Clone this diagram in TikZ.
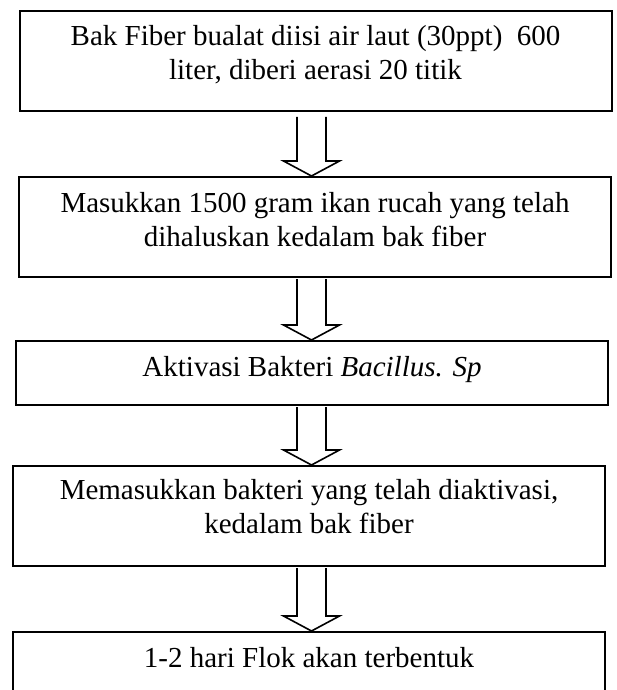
\documentclass[tikz,border=0pt]{standalone}
\usepackage{fontspec}
\setmainfont{Liberation Serif}
\usetikzlibrary{calc,positioning}

\tikzset{
  stepbox/.style={draw,line width=2pt,inner sep=0pt,minimum width=592pt},
  steptext/.style={inner sep=0pt,align=center,font=\fontsize{29}{34}\selectfont},
  flowarrow/.style={line width=1.6pt,line join=miter}
}

% block arrow from the bottom of #1 to the top of #2, gap #3 under #1
\newcommand{\blockarrow}[3]{%
  \draw[flowarrow] ($(mid |- #1.south)+(-14.5,#3)$) -- ($(mid |- #2.north)+(-14.5,-15)$)
    -- ++(-13.5,0) -- (mid |- #2.north) -- ++(28,-15) -- ++(-13.5,0)
    -- ($(mid |- #1.south)+(14.5,#3)$);}

\begin{document}
\begin{tikzpicture}[x=1pt,y=-1pt]
\useasboundingbox (0,0) rectangle (617,690);
\clip (0,0) rectangle (617,690);

% Boxes
\node[stepbox,minimum height=100pt] (b1) at (315.5,61) {};
\node[stepbox,minimum height=100pt] (b2) at (315,227) {};
\node[stepbox,minimum height=64pt] (b3) at (312,373) {};
\node[stepbox,minimum height=100pt] (b4) at (309,516) {};
\node[stepbox,minimum height=100pt] (b5) at (309,682) {};

% Texts
\node[steptext,below=12pt of b1.north] (t1)
  {\strut Bak Fiber bualat diisi air laut (30ppt)\ \ 600\\liter, diberi aerasi 20 titik};
\node[steptext,below=12pt of b2.north] (t2)
  {\strut Masukkan 1500 gram ikan rucah yang telah\\dihaluskan kedalam bak fiber};
\node[steptext,below=12pt of b3.north] (t3)
  {\strut Aktivasi Bakteri \textit{Bacillus. Sp}};
\node[steptext,below=10pt of b4.north] (t4)
  {\strut Memasukkan bakteri yang telah diaktivasi,\\kedalam bak fiber};
\node[steptext,below=12pt of b5.north] (t5)
  {\strut 1-2 hari Flok akan terbentuk};

% Arrows
\coordinate (mid) at (311.5,0);
\blockarrow{b1}{b2}{5}
\blockarrow{b2}{b3}{1}
\blockarrow{b3}{b4}{1}
\blockarrow{b4}{b5}{1}

\end{tikzpicture}
\end{document}
